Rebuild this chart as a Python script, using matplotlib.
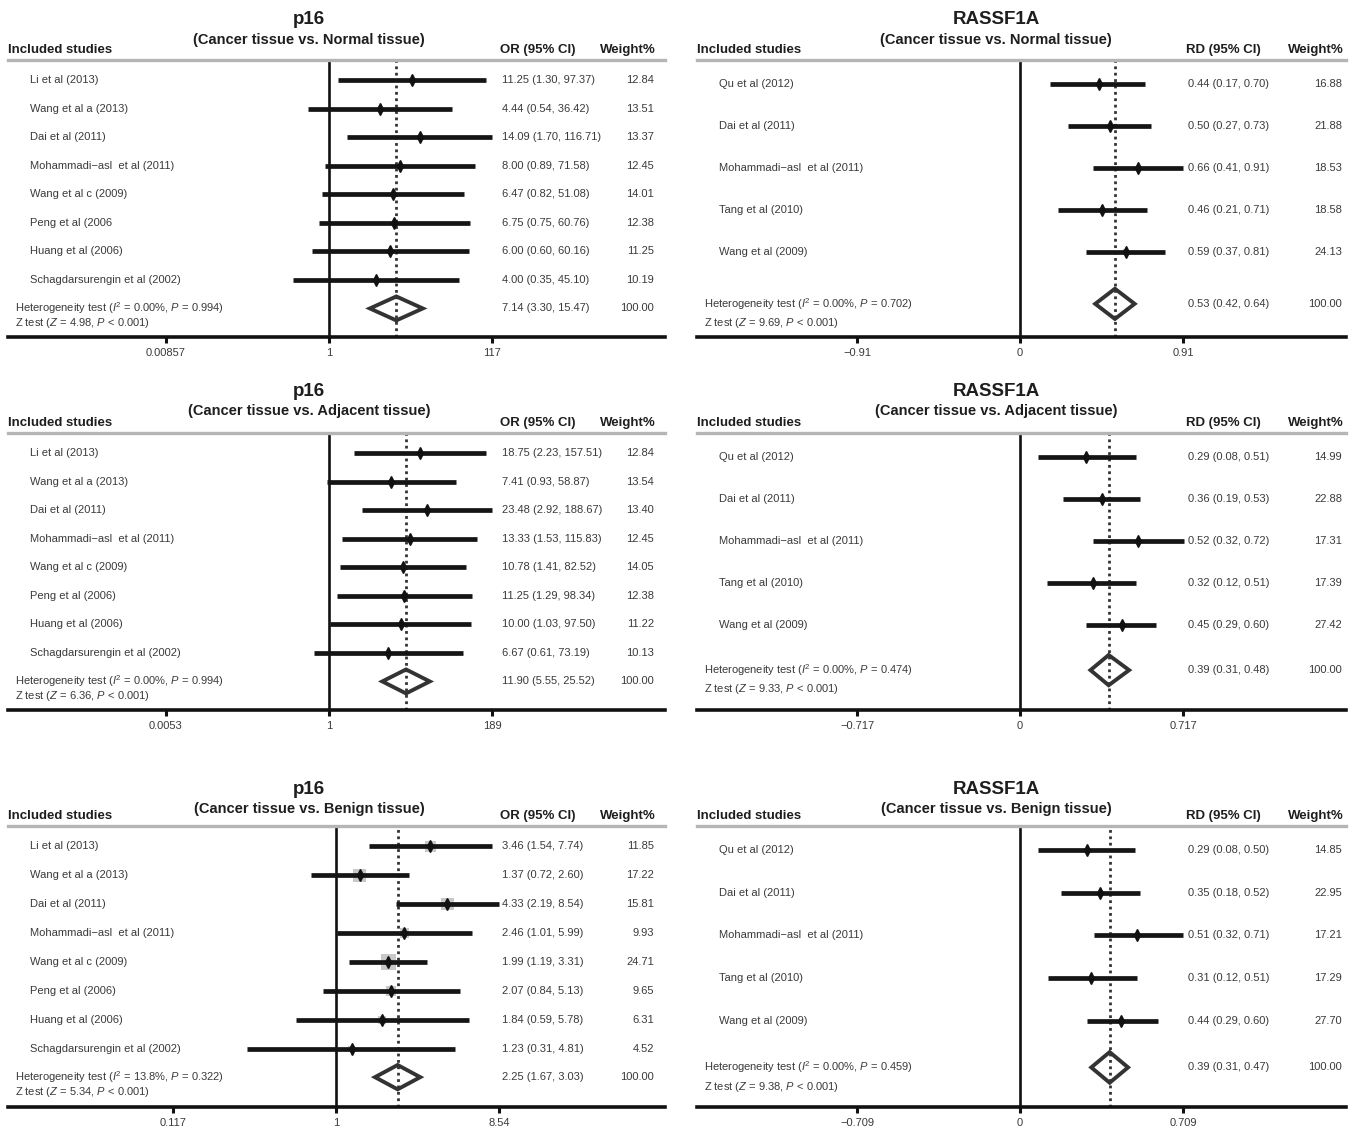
import numpy as np
import matplotlib
matplotlib.use("Agg")
import matplotlib.pyplot as plt
from matplotlib.transforms import blended_transform_factory
from matplotlib.patches import Polygon

plt.rcParams['font.family'] = ['Liberation Sans', 'DejaVu Sans']
plt.rcParams['mathtext.fontset'] = 'custom'
plt.rcParams['mathtext.rm'] = 'Liberation Sans'
plt.rcParams['mathtext.it'] = 'Liberation Sans:italic'

# ---- data ----
p16_studies = ["Li et al (2013)", "Wang et al a (2013)", "Dai et al (2011)",
               "Mohammadi\u2212asl  et al (2011)", "Wang et al c (2009)",
               "Peng et al (2006)", "Huang et al (2006)",
               "Schagdarsurengin et al (2002)"]
p16_studies_normal = p16_studies[:5] + ["Peng et al (2006"] + p16_studies[6:]
rassf_studies = ["Qu et al (2012)", "Dai et al (2011)",
                 "Mohammadi\u2212asl  et al (2011)", "Tang et al (2010)",
                 "Wang et al (2009)"]

# p16, cancer vs normal
p16n_est = [11.25, 4.44, 14.09, 8.00, 6.47, 6.75, 6.00, 4.00]
p16n_lo = [1.30, 0.54, 1.70, 0.89, 0.82, 0.75, 0.60, 0.35]
p16n_hi = [97.37, 36.42, 116.71, 71.58, 51.08, 60.76, 60.16, 45.10]
p16n_w = [12.84, 13.51, 13.37, 12.45, 14.01, 12.38, 11.25, 10.19]
p16n_pool = (7.14, 3.30, 15.47)

# p16, cancer vs adjacent
p16a_est = [18.75, 7.41, 23.48, 13.33, 10.78, 11.25, 10.00, 6.67]
p16a_lo = [2.23, 0.93, 2.92, 1.53, 1.41, 1.29, 1.03, 0.61]
p16a_hi = [157.51, 58.87, 188.67, 115.83, 82.52, 98.34, 97.50, 73.19]
p16a_w = [12.84, 13.54, 13.40, 12.45, 14.05, 12.38, 11.22, 10.13]
p16a_pool = (11.90, 5.55, 25.52)

# p16, cancer vs benign
p16b_est = [3.46, 1.37, 4.33, 2.46, 1.99, 2.07, 1.84, 1.23]
p16b_lo = [1.54, 0.72, 2.19, 1.01, 1.19, 0.84, 0.59, 0.31]
p16b_hi = [7.74, 2.60, 8.54, 5.99, 3.31, 5.13, 5.78, 4.81]
p16b_w = [11.85, 17.22, 15.81, 9.93, 24.71, 9.65, 6.31, 4.52]
p16b_pool = (2.25, 1.67, 3.03)

# RASSF1A, cancer vs normal
rn_est = [0.44, 0.50, 0.66, 0.46, 0.59]
rn_lo = [0.17, 0.27, 0.41, 0.21, 0.37]
rn_hi = [0.70, 0.73, 0.91, 0.71, 0.81]
rn_w = [16.88, 21.88, 18.53, 18.58, 24.13]
rn_pool = (0.53, 0.42, 0.64)

# RASSF1A, cancer vs adjacent
ra_est = [0.29, 0.36, 0.52, 0.32, 0.45]
ra_lo = [0.08, 0.19, 0.32, 0.12, 0.29]
ra_hi = [0.51, 0.53, 0.72, 0.51, 0.60]
ra_w = [14.99, 22.88, 17.31, 17.39, 27.42]
ra_pool = (0.39, 0.31, 0.48)

# RASSF1A, cancer vs benign
rb_est = [0.29, 0.35, 0.51, 0.31, 0.44]
rb_lo = [0.08, 0.18, 0.32, 0.12, 0.29]
rb_hi = [0.50, 0.52, 0.71, 0.51, 0.60]
rb_w = [14.85, 22.95, 17.21, 17.29, 27.70]
rb_pool = (0.39, 0.31, 0.47)

het_i2 = ["0.00%", "0.00%", "13.8%", "0.00%", "0.00%", "0.00%"]
het_p = ["0.994", "0.994", "0.322", "0.702", "0.474", "0.459"]
z_val = ["4.98", "6.36", "5.34", "9.69", "9.33", "9.38"]

axis_max = [116.71, 188.67, 8.54, 0.91, 0.717, 0.709]
tick_labels = [["0.00857", "1", "117"], ["0.0053", "1", "189"],
               ["0.117", "1", "8.54"], ["\u22120.91", "0", "0.91"],
               ["\u22120.717", "0", "0.717"], ["\u22120.709", "0", "0.709"]]

comparisons = ["(Cancer tissue vs. Normal tissue)",
               "(Cancer tissue vs. Adjacent tissue)",
               "(Cancer tissue vs. Benign tissue)"]

# ---- layout (pixels) ----
W, H = 1355, 1133
fig = plt.figure(figsize=(W / 100, H / 100), dpi=100)
fig.patch.set_facecolor('white')


def fx(x):
    return x / W


def fy(y):
    return 1 - y / H


TXT = '#3a3a3a'
HDR = '#1e1e1e'
HALF = 163  # pixels from null line to outer tick


def panel(gene, comp, studies, est, lo, hi, w, pool, i2, p, z, m, tlabels,
          log, left, right, cx, top, bottom, title_y, title_x, x_val, x_w,
          ylim, sum_y, z_off, dia_h, box_k):
    ax = fig.add_axes([fx(left), fy(bottom), (right - left) / W, (bottom - top) / H])
    n = len(studies)
    rows = np.arange(n)
    if log:
        ax.set_xscale('log')
        lm = np.log(m)
        ax.set_xlim(np.exp((left - cx) / HALF * lm), np.exp((right - cx) / HALF * lm))
        ticks = [1 / m, 1, m]
        null = 1
    else:
        ax.set_xlim((left - cx) / HALF * m, (right - cx) / HALF * m)
        ticks = [-m, 0, m]
        null = 0
    ax.set_ylim(*ylim)
    ax.set_yticks([])
    ax.set_xticks(ticks)
    ax.set_xticklabels(tlabels)
    ax.minorticks_off()
    ax.tick_params(axis='x', length=4, width=2.2, color='#111', labelsize=8,
                   labelcolor=TXT, pad=4)
    for s in ['left', 'right']:
        ax.spines[s].set_visible(False)
    ax.spines['bottom'].set_linewidth(2.6)
    ax.spines['bottom'].set_color('#111')
    ax.spines['top'].set_linewidth(2.4)
    ax.spines['top'].set_color('#b5b5b5')
    ax.patch.set_alpha(0)

    ax.axvline(null, color='#111', lw=1.9, zorder=2)
    ax.axvline(pool[0], color='#333', lw=2.0, ls=(0, (1, 1.3)), zorder=2)

    # weight boxes, CI bars and point estimates
    sizes = (box_k * np.sqrt(w) * 0.72) ** 2
    ax.scatter(est, rows, s=sizes, marker='s', color='#c8c8c8', lw=0, zorder=3)
    ax.hlines(rows, lo, hi, color='#151515', lw=3.4, zorder=4)
    ax.plot(est, rows, 'd', color='#111', ms=5.8, zorder=5)

    dia = Polygon([(pool[1], sum_y), (pool[0], sum_y - dia_h),
                   (pool[2], sum_y), (pool[0], sum_y + dia_h)],
                  closed=True, fill=False, ec='#333', lw=2.8, joinstyle='miter',
                  zorder=4)
    ax.add_patch(dia)

    tr = blended_transform_factory(fig.transFigure, ax.transData)
    x_lab = left + 22
    x_het = left + 7
    for r, name, e, a, b, ww in zip(rows, studies, est, lo, hi, w):
        ax.text(fx(x_lab), r, name, transform=tr, fontsize=8, color=TXT,
                va='center', ha='left')
        ax.text(fx(x_val), r, f"{e:.2f} ({a:.2f}, {b:.2f})", transform=tr,
                fontsize=8, color=TXT, va='center', ha='left')
        ax.text(fx(x_w), r, f"{ww:.2f}", transform=tr, fontsize=8, color=TXT,
                va='center', ha='right')
    ax.text(fx(x_het), sum_y, f"Heterogeneity test ($I^2$ = {i2}, $P$ = {p})",
            transform=tr, fontsize=8, color=TXT, va='center', ha='left')
    ax.text(fx(x_het), sum_y + z_off, f"Z test ($Z$ = {z}, $P$ < 0.001)",
            transform=tr, fontsize=8, color=TXT, va='center', ha='left')
    ax.text(fx(x_val), sum_y, f"{pool[0]:.2f} ({pool[1]:.2f}, {pool[2]:.2f})",
            transform=tr, fontsize=8, color=TXT, va='center', ha='left')
    ax.text(fx(x_w), sum_y, "100.00", transform=tr, fontsize=8, color=TXT,
            va='center', ha='right')

    # titles and column headers
    fig.text(fx(title_x), fy(title_y), gene, fontsize=13.5, fontweight='bold',
             color=HDR, ha='center', va='center')
    fig.text(fx(title_x), fy(title_y + 20), comp, fontsize=10.5,
             fontweight='bold', color=HDR, ha='center', va='center')
    hy = top - 10
    fig.text(fx(left), fy(hy), "Included studies", fontsize=9.5,
             fontweight='bold', color=HDR, ha='left', va='center')
    fig.text(fx(x_val - 2), fy(hy), ("OR" if log else "RD") + " (95% CI)",
             fontsize=9.5, fontweight='bold', color=HDR, ha='left', va='center')
    fig.text(fx(x_w + 2), fy(hy), "Weight%", fontsize=9.5,
             fontweight='bold', color=HDR, ha='right', va='center')
    return ax


left_cols = dict(log=True, left=8, right=665, ylim=(9.0, -0.7), z_off=0.5,
                 dia_h=0.42, title_x=309, x_val=502, x_w=654)
right_cols = dict(log=False, left=697, right=1346, cx=1020, ylim=(6.03, -0.57),
                  z_off=0.45, dia_h=0.36, title_x=996, box_k=1.0,
                  x_val=1188, x_w=1342)

panel("p16", comparisons[0], p16_studies_normal, p16n_est, p16n_lo, p16n_hi,
      p16n_w, p16n_pool, het_i2[0], het_p[0], z_val[0], axis_max[0],
      tick_labels[0], cx=329, top=60, bottom=337, title_y=20, sum_y=8.0,
      box_k=1.2, **left_cols)
panel("p16", comparisons[1], p16_studies, p16a_est, p16a_lo, p16a_hi,
      p16a_w, p16a_pool, het_i2[1], het_p[1], z_val[1], axis_max[1],
      tick_labels[1], cx=329, top=433, bottom=710, title_y=391, sum_y=8.0,
      box_k=1.2, **left_cols)
panel("p16", comparisons[2], p16_studies, p16b_est, p16b_lo, p16b_hi,
      p16b_w, p16b_pool, het_i2[2], het_p[2], z_val[2], axis_max[2],
      tick_labels[2], cx=336, top=826, bottom=1107, title_y=789, sum_y=7.97,
      box_k=3.1, **left_cols)

panel("RASSF1A", comparisons[0], rassf_studies, rn_est, rn_lo, rn_hi, rn_w,
      rn_pool, het_i2[3], het_p[3], z_val[3], axis_max[3], tick_labels[3],
      top=60, bottom=337, title_y=20, sum_y=5.24, **right_cols)
panel("RASSF1A", comparisons[1], rassf_studies, ra_est, ra_lo, ra_hi, ra_w,
      ra_pool, het_i2[4], het_p[4], z_val[4], axis_max[4], tick_labels[4],
      top=433, bottom=710, title_y=391, sum_y=5.08, **right_cols)
panel("RASSF1A", comparisons[2], rassf_studies, rb_est, rb_lo, rb_hi, rb_w,
      rb_pool, het_i2[5], het_p[5], z_val[5], axis_max[5], tick_labels[5],
      top=826, bottom=1107, title_y=789, sum_y=5.1, **right_cols)

fig.savefig("out.png", dpi=100)
